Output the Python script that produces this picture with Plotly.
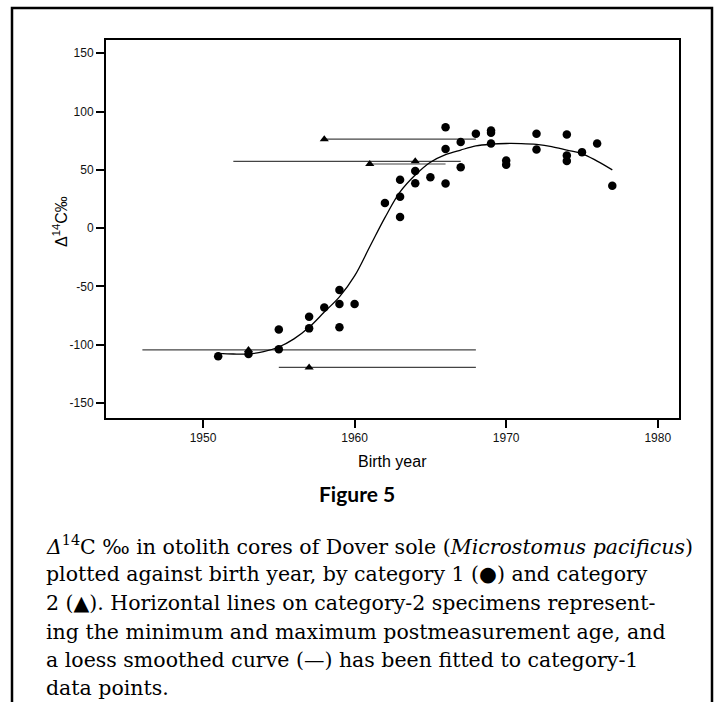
import plotly.graph_objects as go

# ---- Category 1 (circles) ----
cat1_year = [1951, 1953, 1955, 1955, 1957, 1957, 1958, 1959, 1959, 1959, 1960,
             1962, 1963, 1963, 1963, 1964, 1964, 1965, 1966, 1966, 1966,
             1967, 1967, 1968, 1969, 1969, 1969, 1970, 1970, 1972, 1972,
             1974, 1974, 1974, 1975, 1976, 1977]
cat1_d14c = [-110, -108, -87, -104, -76, -86, -68, -53, -65, -85, -65,
             21.5, 41.5, 27, 9.5, 49, 38.5, 43.7, 86.6, 67.8, 38.3,
             73.8, 52.3, 80.9, 83.8, 81.8, 72.6, 58, 54.3, 80.9, 67.5,
             80.4, 62.3, 57.5, 65.2, 72.6, 36.3]

# ---- Category 2 (triangles) with min/max birth year ----
cat2_year = [1953, 1957, 1958, 1961, 1964]
cat2_d14c = [-104.5, -119.5, 76.3, 55, 57.3]
cat2_min = [1946, 1955, 1958, 1961, 1952]
cat2_max = [1968, 1968, 1968, 1966, 1967]

# ---- Loess curve ----
loess_year = [1951, 1952, 1953, 1954, 1955, 1956, 1957, 1958, 1959, 1960,
              1961, 1962, 1963, 1964, 1965, 1966, 1967, 1968, 1969, 1970,
              1971, 1972, 1973, 1974, 1975, 1976, 1977]
loess_d14c = [-107.5, -108, -108, -106, -102, -95, -85, -72, -59, -41,
              -16, 9, 31, 45.5, 56.5, 63, 67, 70.5, 72, 72.6,
              72.5, 71.8, 70, 67, 64, 57.5, 50]

x_ticks = [1950, 1960, 1970, 1980]
y_ticks = [-150, -100, -50, 0, 50, 100, 150]

caption_lines = [
    "<i>Δ</i><sup>14</sup>C ‰ in otolith cores of Dover sole (<i>Microstomus pacificus</i>)",
    "plotted against birth year, by category 1 (●) and category",
    "2 (▲). Horizontal lines on category-2 specimens represent-",
    "ing the minimum and maximum postmeasurement age, and",
    "a loess smoothed curve (—) has been fitted to category-1",
    "data points.",
]

# plot area in pixels
W, H = 715, 702
L, R, T, B = 106, 679, 40, 418
pw, ph = R - L, B - T


def px(xp):
    return (xp - L) / pw


def py(yp):
    return (B - yp) / ph


fig = go.Figure()

fig.add_trace(go.Scatter(
    x=cat2_year, y=cat2_d14c, mode="markers",
    marker=dict(symbol="triangle-up", size=8, color="black"),
    error_x=dict(type="data", symmetric=False,
                 array=[mx - yr for mx, yr in zip(cat2_max, cat2_year)],
                 arrayminus=[yr - mn for mn, yr in zip(cat2_min, cat2_year)],
                 width=0, thickness=1.2, color="#444444"),
    showlegend=False, hoverinfo="skip",
))

fig.add_trace(go.Scatter(
    x=loess_year, y=loess_d14c, mode="lines",
    line=dict(color="black", width=1.3, shape="spline", smoothing=1.0),
    showlegend=False, hoverinfo="skip",
))

fig.add_trace(go.Scatter(
    x=cat1_year, y=cat1_d14c, mode="markers",
    marker=dict(symbol="circle", size=8.5, color="black"),
    showlegend=False, hoverinfo="skip",
))

axis_common = dict(
    showline=True, linewidth=2, linecolor="black", mirror=True,
    ticks="outside", ticklen=8, tickwidth=2, tickcolor="black",
    showgrid=False, zeroline=False,
    tickfont=dict(family="Liberation Sans, Arial, sans-serif", size=12, color="#111111"),
)

fig.update_xaxes(range=[1943.6, 1981.4], tickvals=x_ticks,
                 ticktext=[str(v) for v in x_ticks], **axis_common)
fig.update_yaxes(range=[-162.9, 161.4], tickvals=y_ticks,
                 ticktext=[str(v) for v in y_ticks], **axis_common)

annotations = [
    dict(text="Birth year", x=px((L + R) / 2 + 0), y=py(462), xref="paper", yref="paper",
         showarrow=False, xanchor="center", yanchor="middle",
         font=dict(family="Liberation Sans, Arial, sans-serif", size=16, color="black")),
    dict(text="Δ<sup>14</sup>C‰", x=px(60), y=py(222), xref="paper", yref="paper",
         showarrow=False, xanchor="center", yanchor="middle", textangle=-90,
         font=dict(family="Liberation Sans, Arial, sans-serif", size=16, color="black")),
    dict(text="<b>Figure 5</b>", x=px(357), y=py(493), xref="paper", yref="paper",
         showarrow=False, xanchor="center", yanchor="middle",
         font=dict(family="Lato, sans-serif", size=21, color="black")),
]
line_y = [545, 574, 603, 632, 660, 688]
for txt, yy in zip(caption_lines, line_y):
    annotations.append(dict(
        text=txt, x=px(44), y=py(yy), xref="paper", yref="paper",
        showarrow=False, xanchor="left", yanchor="middle", align="left",
        font=dict(family="DejaVu Serif, serif", size=20.5, color="black")))

fig.update_layout(
    width=W, height=H,
    margin=dict(l=L, r=W - R, t=T, b=H - B, pad=0),
    paper_bgcolor="white", plot_bgcolor="white",
    annotations=annotations,
    shapes=[dict(type="path", xref="paper", yref="paper",
                 path=f"M {px(12)},{py(710)} L {px(12)},{py(8)} L {px(712)},{py(8)} L {px(712)},{py(710)}",
                 line=dict(color="black", width=2.5))],
)

fig.write_html("out.html", config={"displayModeBar": False},
               post_script="document.body.style.margin='0';document.body.style.padding='0';")
